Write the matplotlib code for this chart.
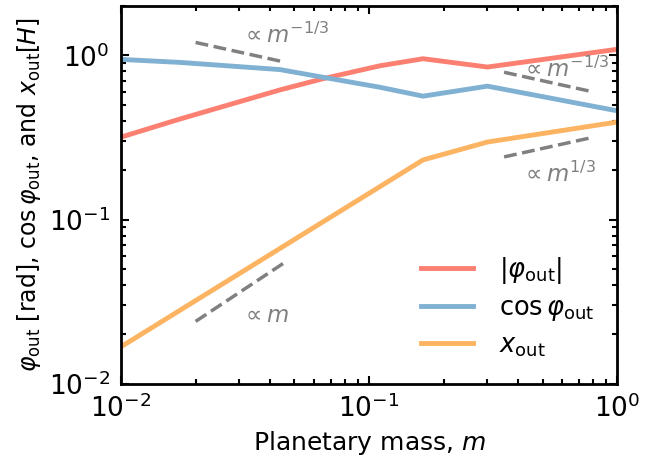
import matplotlib
matplotlib.use("Agg")
import matplotlib.pyplot as plt
import numpy as np

# planetary mass samples
m = [0.01, 0.0173, 0.0438, 0.0653, 0.1106, 0.165, 0.3, 1.0]
phi_out = [0.318, 0.41, 0.617, 0.722, 0.865, 0.955, 0.85, 1.09]
cos_phi = [0.946, 0.907, 0.82, 0.736, 0.64, 0.565, 0.65, 0.46]
m_x = [0.01, 0.165, 0.3, 1.0]
x_out = [0.0168, 0.231, 0.297, 0.393]

red = '#fb8072'
blue = '#80b1d3'
orange = '#fdb462'

fig = plt.figure(figsize=(6.68, 4.63), dpi=100)
ax = fig.add_axes([0.181, 0.171, 0.743, 0.816])

ax.plot(m, phi_out, color=red, lw=3.5, label=r'$|\varphi_{\rm out}|$')
ax.plot(m, cos_phi, color=blue, lw=3.5, label=r'$\cos\varphi_{\rm out}$')
ax.plot(m_x, x_out, color=orange, lw=3.5, label=r'$x_{\rm out}$')

# power-law guides
g1 = np.array([0.02, 0.045])
ax.plot(g1, 1.2 * (g1 / 0.02) ** (-1/3), '--', color='gray', lw=2.5)
ax.plot(g1, 0.024 * (g1 / 0.02), '--', color='gray', lw=2.5)
g2 = np.array([0.35, 0.8])
ax.plot(g2, 0.79 * (g2 / 0.35) ** (-1/3), '--', color='gray', lw=2.5)
ax.plot(g2, 0.241 * (g2 / 0.35) ** (1/3), '--', color='gray', lw=2.5)

ax.text(0.0305, 1.32, r'$\propto m^{-1/3}$', color='gray', fontsize=16.5, va='center')
ax.text(0.41, 0.82, r'$\propto m^{-1/3}$', color='gray', fontsize=16.5, va='center')
ax.text(0.41, 0.19, r'$\propto m^{1/3}$', color='gray', fontsize=16.5, va='center')
ax.text(0.0305, 0.026, r'$\propto m$', color='gray', fontsize=16.5, va='center')

ax.set_xscale('log')
ax.set_yscale('log')
ax.set_xlim(0.01, 1)
ax.set_ylim(0.01, 2)
ax.set_xlabel(r'Planetary mass, $m$', fontsize=18, labelpad=4)
ax.set_ylabel(r'$\varphi_{\rm out}$ [rad], $\cos\varphi_{\rm out}$, and $x_{\rm out}[H]$', fontsize=17, labelpad=4)
ax.tick_params(which='both', direction='in', top=True, right=True, labelsize=19, width=1.5)
ax.tick_params(which='major', length=6, pad=8)
ax.tick_params(which='minor', length=3.5)
for s in ax.spines.values():
    s.set_linewidth(2)

ax.legend(loc='lower right', frameon=False, fontsize=18.5, handlelength=2.0, labelspacing=0.35,
          handletextpad=1.0, bbox_to_anchor=(1.0, 0.005))

fig.savefig('out.png', dpi=100)
